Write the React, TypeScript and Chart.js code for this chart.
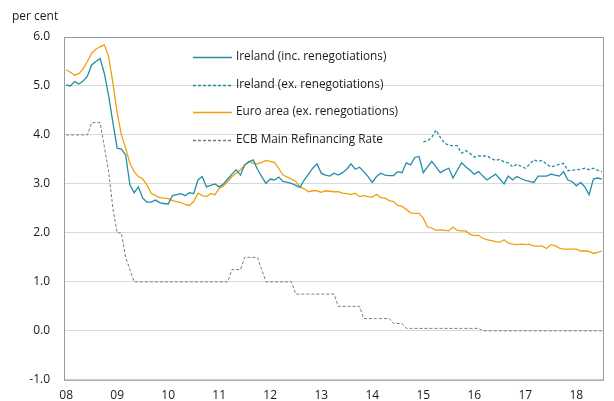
import React, { useEffect, useRef } from "react";
import { Chart, registerables } from "chart.js";

Chart.register(...registerables);

const yearTickLabels = ["08", "09", "10", "11", "12", "13", "14", "15", "16", "17", "18"];
const monthNames = ["Jan", "Feb", "Mar", "Apr", "May", "Jun", "Jul", "Aug", "Sep", "Oct", "Nov", "Dec"];
const monthCount = 127; // Jan 2008 .. Jul 2018
const categories: string[] = [];
for (let i = 0; i < monthCount; i++) {
  categories.push(monthNames[i % 12] + "-" + yearTickLabels[Math.floor(i / 12)]);
}

const irelandInc = [
  5.02, 5.0, 5.09, 5.04, 5.1, 5.2, 5.43, 5.5, 5.56, 5.25, 4.8, 4.25,
  3.73, 3.71, 3.59, 2.98, 2.82, 2.94, 2.71, 2.63, 2.63, 2.67, 2.62, 2.6,
  2.59, 2.76, 2.78, 2.8, 2.76, 2.82, 2.8, 3.08, 3.15, 2.94, 2.97, 3.0,
  2.94, 3.0, 3.1, 3.2, 3.29, 3.18, 3.39, 3.45, 3.49, 3.3, 3.15, 3.01,
  3.1, 3.08, 3.14, 3.05, 3.03, 3.01, 2.97, 2.93, 3.08, 3.2, 3.32, 3.41,
  3.22, 3.18, 3.16, 3.22, 3.18, 3.23, 3.3, 3.41, 3.3, 3.34, 3.25, 3.15,
  3.03, 3.15, 3.22, 3.18, 3.17, 3.17, 3.25, 3.23, 3.43, 3.39, 3.54, 3.56,
  3.23, 3.35, 3.46, 3.35, 3.23, 3.28, 3.32, 3.12, 3.28, 3.43, 3.35, 3.28,
  3.2, 3.25, 3.16, 3.08, 3.14, 3.2, 3.1, 3.0, 3.16, 3.08, 3.15, 3.11,
  3.07, 3.05, 3.03, 3.16, 3.16, 3.16, 3.2, 3.18, 3.16, 3.25, 3.08, 3.05,
  2.96, 3.03, 2.94, 2.78, 3.1, 3.12, 3.1,
];

const irelandEx = [
  null, null, null, null, null, null, null, null, null, null, null, null,
  null, null, null, null, null, null, null, null, null, null, null, null,
  null, null, null, null, null, null, null, null, null, null, null, null,
  null, null, null, null, null, null, null, null, null, null, null, null,
  null, null, null, null, null, null, null, null, null, null, null, null,
  null, null, null, null, null, null, null, null, null, null, null, null,
  null, null, null, null, null, null, null, null, null, null, null, null,
  3.86, 3.88, 3.95, 4.1, 3.95, 3.83, 3.79, 3.78, 3.78, 3.63, 3.68, 3.62,
  3.55, 3.57, 3.57, 3.57, 3.52, 3.48, 3.5, 3.45, 3.43, 3.35, 3.4, 3.36,
  3.32, 3.4, 3.49, 3.46, 3.48, 3.4, 3.35, 3.37, 3.4, 3.42, 3.27, 3.28,
  3.29, 3.3, 3.32, 3.29, 3.32, 3.28, 3.25,
];

const euroArea = [
  5.33, 5.28, 5.22, 5.25, 5.35, 5.5, 5.67, 5.75, 5.8, 5.84, 5.6, 5.06,
  4.45, 4.0, 3.73, 3.42, 3.25, 3.15, 3.1, 2.98, 2.81, 2.76, 2.72, 2.71,
  2.7, 2.66, 2.64, 2.62, 2.58, 2.56, 2.64, 2.81, 2.76, 2.74, 2.8, 2.78,
  2.91, 2.96, 3.05, 3.15, 3.22, 3.29, 3.38, 3.46, 3.42, 3.41, 3.44, 3.48,
  3.46, 3.44, 3.32, 3.18, 3.14, 3.1, 3.05, 2.94, 2.9, 2.84, 2.86, 2.86,
  2.83, 2.86, 2.85, 2.84, 2.84, 2.81, 2.8, 2.78, 2.81, 2.74, 2.76, 2.74,
  2.73, 2.79, 2.72, 2.71, 2.66, 2.64, 2.56, 2.54, 2.48, 2.41, 2.4, 2.4,
  2.3, 2.12, 2.1, 2.05, 2.06, 2.05, 2.04, 2.12, 2.05, 2.04, 2.04, 1.97,
  1.95, 1.95, 1.89, 1.86, 1.84, 1.82, 1.81, 1.86, 1.79, 1.77, 1.76, 1.77,
  1.76, 1.77, 1.73, 1.73, 1.73, 1.68, 1.76, 1.74, 1.69, 1.67, 1.67, 1.67,
  1.67, 1.63, 1.63, 1.62, 1.58, 1.6, 1.63,
];

const ecbRate = [
  4.0, 4.0, 4.0, 4.0, 4.0, 4.0, 4.25, 4.25, 4.25, 3.75, 3.25, 2.5,
  2.0, 2.0, 1.5, 1.25, 1.0, 1.0, 1.0, 1.0, 1.0, 1.0, 1.0, 1.0,
  1.0, 1.0, 1.0, 1.0, 1.0, 1.0, 1.0, 1.0, 1.0, 1.0, 1.0, 1.0,
  1.0, 1.0, 1.0, 1.25, 1.25, 1.25, 1.5, 1.5, 1.5, 1.5, 1.25, 1.0,
  1.0, 1.0, 1.0, 1.0, 1.0, 1.0, 0.75, 0.75, 0.75, 0.75, 0.75, 0.75,
  0.75, 0.75, 0.75, 0.75, 0.5, 0.5, 0.5, 0.5, 0.5, 0.5, 0.25, 0.25,
  0.25, 0.25, 0.25, 0.25, 0.25, 0.15, 0.15, 0.15, 0.05, 0.05, 0.05, 0.05,
  0.05, 0.05, 0.05, 0.05, 0.05, 0.05, 0.05, 0.05, 0.05, 0.05, 0.05, 0.05,
  0.05, 0.05, 0.0, 0.0, 0.0, 0.0, 0.0, 0.0, 0.0, 0.0, 0.0, 0.0,
  0.0, 0.0, 0.0, 0.0, 0.0, 0.0, 0.0, 0.0, 0.0, 0.0, 0.0, 0.0,
  0.0, 0.0, 0.0, 0.0, 0.0, 0.0, 0.0,
];

const seriesNames = [
  "Ireland (inc. renegotiations)",
  "Ireland (ex. renegotiations)",
  "Euro area (ex. renegotiations)",
  "ECB Main Refinancing Rate",
];

const TEAL = "#238ea5";
const ORANGE = "#f0a00c";
const GREY = "#7a7a7a";
const FONT = "'Open Sans', 'Liberation Sans', sans-serif";

const framePlugin = {
  id: "frameAndLegend",
  afterDraw(chart: any) {
    const { ctx, chartArea } = chart;
    ctx.save();
    // plot frame
    ctx.strokeStyle = "#9a9a9a";
    ctx.lineWidth = 1;
    ctx.strokeRect(chartArea.left + 0.5, chartArea.top + 0.5, chartArea.right - chartArea.left - 1, chartArea.bottom - chartArea.top);
    // unit label
    ctx.fillStyle = "#1a1a1a";
    ctx.font = "12px " + FONT;
    ctx.textBaseline = "middle";
    ctx.textAlign = "left";
    ctx.fillText("per cent", 12, 17);
    // legend
    const rows = [57, 85, 112, 140];
    chart.data.datasets.forEach((ds: any, i: number) => {
      const y = rows[i] + 0.5;
      ctx.beginPath();
      ctx.strokeStyle = ds.borderColor;
      ctx.lineWidth = 1.3;
      ctx.setLineDash(ds.borderDash || []);
      ctx.moveTo(193, y);
      ctx.lineTo(232, y);
      ctx.stroke();
      ctx.setLineDash([]);
      ctx.fillStyle = "#1a1a1a";
      ctx.font = "11.8px " + FONT;
      ctx.fillText(seriesNames[i], 236, rows[i]);
    });
    ctx.restore();
  },
};

export default function App() {
  const canvasRef = useRef<HTMLCanvasElement | null>(null);

  useEffect(() => {
    document.body.style.margin = "0";
    const canvas = canvasRef.current;
    if (!canvas) return;
    const chart = new Chart(canvas, {
      type: "line",
      data: {
        labels: categories,
        datasets: [
          { label: seriesNames[0], data: irelandInc, borderColor: TEAL, borderWidth: 1.3, pointRadius: 0, tension: 0 },
          { label: seriesNames[1], data: irelandEx, borderColor: TEAL, borderWidth: 1.3, borderDash: [3, 2], pointRadius: 0, tension: 0, spanGaps: false },
          { label: seriesNames[2], data: euroArea, borderColor: ORANGE, borderWidth: 1.3, pointRadius: 0, tension: 0 },
          { label: seriesNames[3], data: ecbRate, borderColor: GREY, borderWidth: 1, borderDash: [3, 2], pointRadius: 0, tension: 0 },
        ],
      },
      options: {
        animation: false,
        responsive: false,
        maintainAspectRatio: false,
        layout: { padding: { left: 0, right: 10, top: 37, bottom: 0 } },
        plugins: { legend: { display: false }, tooltip: { enabled: false } },
        scales: {
          x: {
            type: "category",
            offset: true,
            grid: { display: false, drawTicks: false },
            border: { display: false },
            afterFit(scale: any) { scale.height = 21; },
            ticks: {
              autoSkip: false,
              maxRotation: 0,
              padding: 9,
              color: "#1a1a1a",
              font: { family: FONT, size: 12 },
              callback: (_v: any, i: number) => (i % 12 === 0 ? yearTickLabels[i / 12] : ""),
            },
          },
          y: {
            min: -1,
            max: 6,
            grid: { color: "#d9d9d9", lineWidth: 1, drawTicks: false },
            border: { display: false },
            afterFit(scale: any) { scale.width = 64; },
            ticks: {
              stepSize: 1,
              padding: 14,
              color: "#1a1a1a",
              font: { family: FONT, size: 12 },
              callback: (v: any) => Number(v).toFixed(1),
            },
          },
        },
      },
      plugins: [framePlugin],
    });
    return () => chart.destroy();
  }, []);

  return (
    <div style={{ width: 614, height: 401, background: "#fff" }}>
      <canvas ref={canvasRef} width={614} height={401} style={{ display: "block" }} />
    </div>
  );
}
